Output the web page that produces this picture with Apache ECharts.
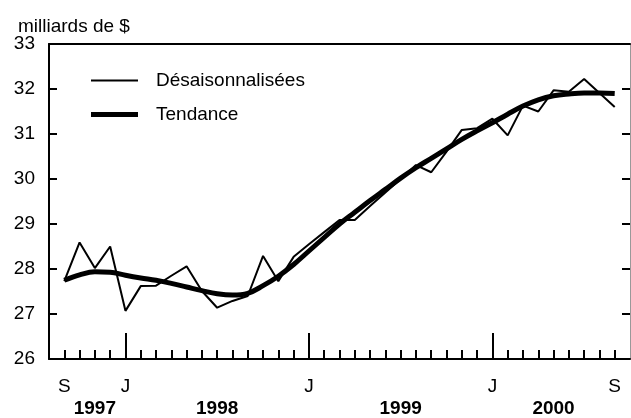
<!DOCTYPE html>
<html>
<head>
<meta charset="utf-8">
<script src="https://cdn.jsdelivr.net/npm/echarts@6/dist/echarts.min.js"></script>
<style>
html,body{margin:0;padding:0;background:#fff;}
#chart{width:631px;height:418px;}
</style>
</head>
<body>
<div id="chart"></div>
<script>
// Months Sep 1997 .. Sep 2000 (index 0..36)
var months = ['1997-09','1997-10','1997-11','1997-12','1998-01','1998-02','1998-03','1998-04','1998-05','1998-06','1998-07','1998-08','1998-09','1998-10','1998-11','1998-12','1999-01','1999-02','1999-03','1999-04','1999-05','1999-06','1999-07','1999-08','1999-09','1999-10','1999-11','1999-12','2000-01','2000-02','2000-03','2000-04','2000-05','2000-06','2000-07','2000-08','2000-09'];
var seasonal = [27.73,28.59,28.02,28.50,27.07,27.62,27.63,27.85,28.06,27.51,27.14,27.29,27.40,28.29,27.73,28.27,28.55,28.82,29.09,29.09,29.40,29.70,30.00,30.31,30.15,30.61,31.09,31.13,31.34,30.97,31.63,31.50,31.97,31.94,32.22,31.91,31.60];
var trend = [27.75,27.87,27.94,27.93,27.86,27.80,27.75,27.68,27.60,27.52,27.45,27.42,27.46,27.63,27.84,28.10,28.40,28.70,29.00,29.26,29.52,29.77,30.02,30.25,30.46,30.67,30.88,31.07,31.25,31.44,31.62,31.76,31.85,31.89,31.91,31.91,31.90];
var monthTickLabels = {0:'S',4:'J',16:'J',28:'J',36:'S'};
var yearTickLabels = {2:'1997',10:'1998',22:'1999',32:'2000'};
var seriesNames = ['Désaisonnalisées','Tendance'];
var unitLabel = 'milliards de $';

var font = 'Liberation Sans, Arial, Helvetica, sans-serif';
function pts(arr){ return arr.map(function(v,i){ return [i, v]; }); }
var minorTicks = months.map(function(m,i){ return i; });

var chart = echarts.init(document.getElementById('chart'), null, {renderer:'canvas'});
chart.setOption({
  animation:false,
  backgroundColor:'#fff',
  title:{text:unitLabel,left:13,top:12,textStyle:{fontFamily:font,fontSize:19,fontWeight:'normal',color:'#000'}},
  grid:{left:49,right:1,top:44,bottom:56,containLabel:false},
  legend:[
    {data:[{name:seriesNames[0],icon:'rect',itemStyle:{color:'#000'}}],left:86,top:66,itemWidth:47,itemHeight:2,
     textStyle:{fontFamily:font,fontSize:19,color:'#000',padding:[0,0,0,13]}},
    {data:[{name:seriesNames[1],icon:'rect',itemStyle:{color:'#000'}}],left:86,top:100,itemWidth:47,itemHeight:5,
     textStyle:{fontFamily:font,fontSize:19,color:'#000',padding:[0,0,0,13]}}
  ],
  xAxis:[
    {type:'value',min:-1,max:37,position:'bottom',
     axisLine:{show:true,onZero:false,lineStyle:{color:'#000',width:2}},
     axisTick:{show:true,inside:true,length:9,customValues:minorTicks,lineStyle:{color:'#000',width:2}},
     axisLabel:{customValues:[0,4,16,28,36],formatter:function(v){return monthTickLabels[v]||'';},margin:18,fontFamily:font,fontSize:19,color:'#000'},
     splitLine:{show:false}},
    {type:'value',min:-1,max:37,position:'bottom',
     axisLine:{show:false,onZero:false},
     axisTick:{show:true,inside:true,length:26,customValues:[4,16,28],lineStyle:{color:'#000',width:2}},
     axisLabel:{show:false},splitLine:{show:false}},
    {type:'value',min:-1,max:37,position:'bottom',
     axisLine:{show:false,onZero:false},axisTick:{show:false},
     axisLabel:{customValues:[2,10,22,32],formatter:function(v){return yearTickLabels[v]||'';},margin:40,fontFamily:font,fontSize:19,fontWeight:'bold',color:'#000'},
     splitLine:{show:false}},
    {type:'value',min:-1,max:37,position:'top',
     axisLine:{show:true,onZero:false,lineStyle:{color:'#000',width:2}},axisTick:{show:false},axisLabel:{show:false},splitLine:{show:false}}
  ],
  yAxis:[
    {type:'value',min:26,max:33,interval:1,position:'left',
     axisLine:{show:true,onZero:false,lineStyle:{color:'#000',width:2}},
     axisTick:{show:true,inside:true,length:8,lineStyle:{color:'#000',width:2}},
     axisLabel:{margin:14,fontFamily:font,fontSize:19,color:'#000'},
     splitLine:{show:false}},
    {type:'value',min:26,max:33,interval:1,position:'right',
     axisLine:{show:true,onZero:false,lineStyle:{color:'#999',width:1}},
     axisTick:{show:true,inside:true,length:8,lineStyle:{color:'#000',width:2}},
     axisLabel:{show:false},splitLine:{show:false}}
  ],
  series:[
    {name:seriesNames[0],type:'line',data:pts(seasonal),xAxisIndex:0,yAxisIndex:0,showSymbol:false,symbol:'none',
     lineStyle:{color:'#000',width:2},itemStyle:{color:'#000'},z:3},
    {name:seriesNames[1],type:'line',data:pts(trend),xAxisIndex:0,yAxisIndex:0,showSymbol:false,symbol:'none',smooth:0.4,
     lineStyle:{color:'#000',width:5},itemStyle:{color:'#000'},z:2}
  ]
});
</script>
</body>
</html>
